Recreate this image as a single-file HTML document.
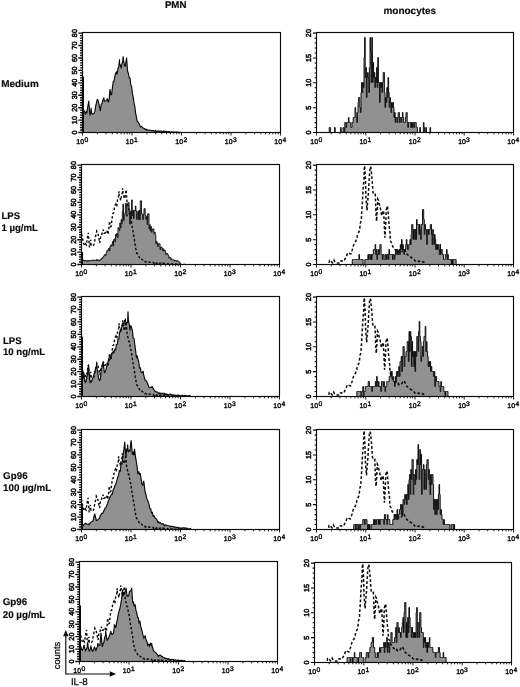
<!DOCTYPE html>
<html lang="en">
<head>
<meta charset="utf-8">
<title>IL-8 production by PMN and monocytes</title>
<style>
html,body{margin:0;padding:0;background:#fff;}
body{width:520px;height:687px;overflow:hidden;font-family:"Liberation Sans",Arial,Helvetica,sans-serif;}
svg{display:block;will-change:transform;transform:translateZ(0);}
</style>
</head>
<body>
<svg width="520" height="687" viewBox="0 0 520 687">
<rect width="520" height="687" fill="#fff"/>
<defs>
<clipPath id="cl0"><rect x="82.5" y="32.5" width="198.0" height="100.6"/></clipPath>
<clipPath id="cr0"><rect x="316.5" y="32.5" width="197.0" height="100.6"/></clipPath>
<clipPath id="cl1"><rect x="81.5" y="164.5" width="198.0" height="100.6"/></clipPath>
<clipPath id="cr1"><rect x="316.5" y="164.5" width="197.0" height="100.6"/></clipPath>
<clipPath id="cl2"><rect x="81.5" y="296.5" width="198.0" height="100.6"/></clipPath>
<clipPath id="cr2"><rect x="316.5" y="296.5" width="197.0" height="100.6"/></clipPath>
<clipPath id="cl3"><rect x="81.5" y="429.5" width="198.0" height="100.6"/></clipPath>
<clipPath id="cr3"><rect x="316.5" y="429.5" width="197.0" height="100.6"/></clipPath>
<clipPath id="cl4"><rect x="79.5" y="561.5" width="198.0" height="100.6"/></clipPath>
<clipPath id="cr4"><rect x="314.5" y="562.5" width="197.0" height="100.6"/></clipPath>
</defs>
<g fill="#919191" stroke="#0a0a0a" stroke-width="1" stroke-linejoin="miter" stroke-miterlimit="3">
<path clip-path="url(#cl0)" stroke-width="1.15" d="M82.0 102.0L82.8 104.7L83.6 109.4L84.4 111.9L85.2 113.8L86.0 111.8L86.8 112.9L87.6 107.6L88.4 103.0L88.8 100.8L89.2 107.2L90.0 115.4L90.8 112.2L91.1 107.7L91.6 112.8L92.4 114.1L93.2 114.0L94.0 113.4L94.8 111.7L95.6 106.3L96.4 103.0L97.2 99.7L97.2 99.2L98.0 100.3L98.8 103.4L99.6 107.5L100.4 111.0L101.2 104.2L102.0 103.7L102.8 100.4L103.6 98.6L103.8 97.7L104.4 101.2L105.2 101.2L106.0 100.6L106.8 99.8L107.4 98.5L107.6 99.8L108.4 102.3L109.2 98.6L110.0 89.2L110.0 89.2L110.8 94.8L111.6 94.5L112.4 87.9L113.2 81.8L114.0 81.1L114.8 76.7L115.6 73.3L116.4 72.0L117.2 74.4L118.0 68.0L118.8 66.9L119.5 59.2L119.6 64.0L120.4 64.9L121.2 68.5L122.0 63.5L122.8 60.8L123.1 56.2L123.6 60.9L124.4 65.0L125.2 66.7L126.0 61.7L126.6 57.7L126.8 61.0L127.6 71.2L128.4 73.5L129.2 77.5L130.0 77.9L130.8 84.9L131.6 86.4L132.4 93.4L133.2 97.1L134.0 102.7L134.8 106.5L135.6 112.9L136.4 117.1L137.2 121.1L138.0 121.9L138.8 123.2L139.6 124.7L140.4 126.8L141.2 126.5L142.0 127.0L142.8 127.7L143.6 128.2L144.4 128.5L145.2 129.6L146.0 129.3L146.8 130.3L147.6 129.8L148.4 130.2L149.2 130.0L150.0 130.2L150.8 130.2L151.6 130.9L152.4 130.6L153.2 130.6L154.0 130.5L154.8 131.7L155.6 130.7L156.4 131.5L157.2 130.9L158.0 131.6L158.8 130.9L159.6 131.5L160.4 131.1L161.2 131.1L162.0 131.3L162.8 132.2L163.6 131.1L164.4 131.4L165.2 131.3L166.0 131.3L166.8 131.3L167.6 132.2L168.4 131.5L169.2 131.6L170.0 132.0L170.8 132.1L171.6 131.9L172.4 132.3L173.2 131.9L174.0 132.4L174.8 131.9L175.6 132.5L176.4 131.9L177.2 132.0L178.0 132.0L178.8 132.4L179.6 132.3L180.4 132.5L181.2 132.4L182.0 132.5L182.8 132.5L183.6 132.5L184.4 132.5L185.2 132.5L186.0 132.5L186.8 132.5L187.6 132.5L187.6 132.5L82.0 132.5Z"/>
<rect x="82.9" y="76.5" width="1.1" height="56.0" fill="#0a0a0a" stroke="none"/>
<path clip-path="url(#cr0)" stroke-width="0.95" d="M329.2 132.5V127.5H329.8V127.5H330.4V132.5H331.0V132.5H331.6V132.5H332.2V132.5H332.8V132.5H333.4V132.5H334.0V132.5H334.6V127.5H335.2V132.5H335.8V132.5H336.4V132.5H337.0V132.5H337.6V132.5H338.2V132.5H338.8V132.5H339.4V132.5H340.0V132.5H340.6V127.5H341.2V132.5H341.8V132.5H342.4V132.5H343.0V127.5H343.6V127.5H344.2V132.5H344.8V122.5H345.4V122.5H346.0V127.5H346.6V122.5H347.2V122.5H347.8V122.5H348.4V117.5H349.0V122.5H349.6V122.5H350.2V122.5H350.8V127.5H351.4V127.5H352.0V122.5H352.6V122.5H353.2V117.5H353.8V117.5H354.4V117.5H355.0V107.5H355.6V112.5H356.2V117.5H356.8V122.5H357.4V112.5H358.0V102.5H358.6V97.5H359.2V97.5H359.8V107.5H360.4V112.5H361.0V92.5H361.6V82.5H362.2V92.5H362.8V82.5H363.4V87.5H364.0V57.5H364.6V37.5H365.2V77.5H365.8V67.5H366.4V97.5H367.0V77.5H367.6V72.5H368.2V77.5H368.8V92.5H369.4V67.5H370.0V37.5H370.6V52.5H371.2V82.5H371.8V37.5H372.4V82.5H373.0V62.5H373.6V77.5H374.2V72.5H374.8V87.5H375.4V77.5H376.0V82.5H376.6V67.5H377.2V87.5H377.8V57.5H378.4V82.5H379.0V82.5H379.6V102.5H380.2V82.5H380.8V87.5H381.4V82.5H382.0V92.5H382.6V82.5H383.2V72.5H383.8V72.5H384.4V92.5H385.0V107.5H385.6V97.5H386.2V102.5H386.8V87.5H387.4V97.5H388.0V77.5H388.6V92.5H389.2V107.5H389.8V97.5H390.4V102.5H391.0V112.5H391.6V102.5H392.2V107.5H392.8V102.5H393.4V107.5H394.0V117.5H394.6V112.5H395.2V122.5H395.8V117.5H396.4V117.5H397.0V122.5H397.6V117.5H398.2V112.5H398.8V112.5H399.4V122.5H400.0V117.5H400.6V117.5H401.2V122.5H401.8V117.5H402.4V112.5H403.0V117.5H403.6V122.5H404.2V122.5H404.8V122.5H405.4V117.5H406.0V112.5H406.6V112.5H407.2V122.5H407.8V127.5H408.4V122.5H409.0V122.5H409.6V122.5H410.2V122.5H410.8V127.5H411.4V122.5H412.0V127.5H412.6V122.5H413.2V122.5H413.8V127.5H414.4V122.5H415.0V122.5H415.6V122.5H416.2V127.5H416.8V127.5H417.4V132.5H418.0V132.5H418.6V132.5H419.2V132.5H419.8V127.5H420.4V132.5H421.0V132.5H421.6V132.5H422.2V132.5H422.8V132.5H423.4V122.5H424.0V127.5H424.6V132.5H425.2V132.5H425.8V127.5H426.4V132.5H427.0V132.5H427.6V132.5H428.2V132.5H428.8V132.5H429.4V132.5H430.0V127.5H430.6V132.5H431.2V132.5Z"/>
<path clip-path="url(#cl1)" stroke-width="0.9" d="M82.0 264.5V254.7H82.6V259.7H83.2V260.5H83.9V260.3H84.5V261.1H85.1V260.4H85.7V260.9H86.3V260.8H87.0V261.4H87.6V260.4H88.2V261.1H88.8V260.5H89.4V260.4H90.1V261.0H90.7V260.4H91.3V260.6H91.9V260.1H92.5V260.0H93.2V260.8H93.8V260.1H94.4V260.5H95.0V260.2H95.6V260.5H96.3V259.6H96.9V260.9H97.5V259.8H98.1V260.4H98.7V260.0H99.4V260.7H100.0V259.8H100.6V259.6H101.2V258.3H101.8V258.6H102.5V257.2H103.1V257.2H103.7V256.0H104.3V254.7H104.9V254.6H105.6V255.6H106.2V252.5H106.8V250.8H107.4V251.0H108.0V249.2H108.7V248.2H109.3V251.0H109.9V246.4H110.5V245.1H111.1V246.1H111.8V244.3H112.4V241.4H113.0V246.0H113.6V239.8H114.2V238.9H114.9V241.8H115.5V234.5H116.1V236.0H116.7V233.4H117.3V237.8H118.0V227.7H118.6V228.6H119.2V230.6H119.8V223.1H120.4V227.7H121.1V219.5H121.7V223.5H122.3V211.3H122.9V204.2H123.5V220.5H124.2V215.4H124.8V212.9H125.4V203.4H126.0V203.4H126.6V216.2H127.3V214.8H127.9V202.5H128.5V202.5H129.1V210.0H129.7V224.1H130.4V211.6H131.0V218.2H131.6V199.9H132.2V215.6H132.8V210.3H133.5V218.6H134.1V210.5H134.7V210.8H135.3V206.0H135.9V210.8H136.6V219.5H137.2V214.4H137.8V211.3H138.4V219.5H139.0V210.2H139.7V219.9H140.3V200.8H140.9V200.8H141.5V213.6H142.1V214.1H142.8V219.7H143.4V214.4H144.0V208.6H144.6V208.6H145.2V215.2H145.9V219.4H146.5V216.4H147.1V224.7H147.7V213.7H148.3V213.7H149.0V228.9H149.6V224.6H150.2V230.8H150.8V226.5H151.4V232.2H152.1V229.8H152.7V228.8H153.3V228.9H153.9V233.8H154.5V232.2H155.2V234.6H155.8V243.6H156.4V241.4H157.0V242.5H157.6V246.5H158.3V243.8H158.9V243.7H159.5V244.0H160.1V249.7H160.7V247.1H161.4V247.1H162.0V248.3H162.6V250.8H163.2V248.8H163.8V251.0H164.5V250.1H165.1V251.3H165.7V254.5H166.3V253.4H166.9V253.5H167.6V254.5H168.2V255.6H168.8V258.1H169.4V257.2H170.0V257.3H170.7V259.4H171.3V258.7H171.9V260.0H172.5V260.0H173.1V259.8H173.8V259.9H174.4V261.1H175.0V260.4H175.6V260.4H176.2V261.3H176.9V260.7H177.5V260.9H178.1V261.1H178.7V261.8H179.3V262.7H180.0V263.1H180.6V264.5Z"/>
<rect x="81.9" y="252.1" width="1.1" height="12.5" fill="#0a0a0a" stroke="none"/>
<path clip-path="url(#cr1)" stroke-width="0.95" d="M352.3 264.5V259.5H352.9V259.5H353.5V259.5H354.1V259.5H354.7V259.5H355.3V259.5H355.9V259.5H356.5V259.5H357.1V259.5H357.7V259.5H358.3V259.5H358.9V254.5H359.5V259.5H360.1V259.5H360.7V259.5H361.3V259.5H361.9V259.5H362.5V259.5H363.1V264.5H363.7V264.5H364.3V264.5H364.9V259.5H365.5V259.5H366.1V259.5H366.7V259.5H367.3V259.5H367.9V254.5H368.5V259.5H369.1V254.5H369.7V254.5H370.3V259.5H370.9V254.5H371.5V259.5H372.1V254.5H372.7V254.5H373.3V249.5H373.9V249.5H374.5V249.5H375.1V244.5H375.7V254.5H376.3V249.5H376.9V259.5H377.5V254.5H378.1V249.5H378.7V254.5H379.3V249.5H379.9V244.5H380.5V244.5H381.1V254.5H381.7V254.5H382.3V259.5H382.9V254.5H383.5V254.5H384.1V259.5H384.7V259.5H385.3V254.5H385.9V254.5H386.5V259.5H387.1V254.5H387.7V254.5H388.3V259.5H388.9V249.5H389.5V254.5H390.1V254.5H390.7V254.5H391.3V254.5H391.9V254.5H392.5V259.5H393.1V254.5H393.7V254.5H394.3V259.5H394.9V254.5H395.5V249.5H396.1V249.5H396.7V254.5H397.3V249.5H397.9V254.5H398.5V254.5H399.1V249.5H399.7V254.5H400.3V244.5H400.9V249.5H401.5V239.5H402.1V249.5H402.7V244.5H403.3V249.5H403.9V254.5H404.5V249.5H405.1V249.5H405.7V244.5H406.3V239.5H406.9V244.5H407.5V249.5H408.1V249.5H408.7V244.5H409.3V244.5H409.9V239.5H410.5V244.5H411.1V234.5H411.7V224.5H412.3V224.5H412.9V239.5H413.5V229.5H414.1V229.5H414.7V239.5H415.3V229.5H415.9V239.5H416.5V219.5H417.1V224.5H417.7V224.5H418.3V224.5H418.9V234.5H419.5V224.5H420.1V229.5H420.7V239.5H421.3V224.5H421.9V224.5H422.5V209.5H423.1V209.5H423.7V219.5H424.3V234.5H424.9V224.5H425.5V229.5H426.1V229.5H426.7V244.5H427.3V229.5H427.9V229.5H428.5V234.5H429.1V229.5H429.7V229.5H430.3V224.5H430.9V224.5H431.5V234.5H432.1V244.5H432.7V229.5H433.3V234.5H433.9V244.5H434.5V234.5H435.1V239.5H435.7V249.5H436.3V244.5H436.9V249.5H437.5V244.5H438.1V244.5H438.7V249.5H439.3V254.5H439.9V244.5H440.5V254.5H441.1V249.5H441.7V249.5H442.3V254.5H442.9V254.5H443.5V259.5H444.1V259.5H444.7V259.5H445.3V254.5H445.9V254.5H446.5V249.5H447.1V259.5H447.7V254.5H448.3V259.5H448.9V259.5H449.5V259.5H450.1V259.5H450.7V259.5H451.3V264.5H451.9V259.5H452.5V264.5H453.1V259.5H453.7V259.5H454.3V259.5H454.9V259.5H455.5V259.5H456.1V264.5H456.7V264.5Z"/>
<path clip-path="url(#cl2)" stroke-width="1.15" d="M82.0 383.4L82.8 379.0L83.6 374.3L83.8 372.3L84.4 378.3L85.2 382.3L86.0 381.6L86.8 378.0L87.6 373.4L88.4 365.2L88.5 364.6L89.2 373.3L90.0 383.1L90.8 380.9L91.6 381.8L92.4 378.9L93.2 377.2L94.0 374.2L94.8 371.9L95.6 368.8L96.4 366.8L96.6 363.1L97.2 369.7L98.0 373.9L98.8 379.3L99.6 380.5L100.4 379.0L101.2 369.7L102.0 367.2L102.8 363.3L103.1 361.5L103.6 366.6L104.4 372.9L105.2 371.6L106.0 369.5L106.8 366.0L107.6 364.0L108.4 359.8L109.2 357.5L110.0 355.5L110.8 358.6L111.6 354.0L112.4 353.1L113.2 351.6L114.0 352.7L114.8 349.3L115.6 349.8L116.4 344.5L117.2 344.3L118.0 339.1L118.8 339.2L119.6 332.3L120.4 331.2L121.2 327.9L122.0 326.4L122.8 322.4L123.6 326.1L124.4 320.9L125.2 321.5L125.4 318.5L126.0 325.2L126.8 322.8L127.6 322.4L128.0 311.5L128.4 320.1L129.2 324.1L130.0 330.5L130.8 325.4L131.6 327.7L132.4 330.3L133.2 337.9L134.0 338.5L134.8 344.6L135.6 350.5L136.4 357.3L137.2 356.1L138.0 359.3L138.8 362.3L139.6 368.2L140.4 368.0L141.2 372.5L142.0 372.6L142.8 371.8L143.1 370.8L143.6 374.7L144.4 377.5L145.2 380.5L146.0 380.5L146.8 381.6L147.6 383.7L148.4 385.8L149.2 387.7L150.0 387.6L150.8 387.2L151.6 387.2L152.3 386.2L152.4 387.9L153.2 388.2L154.0 390.0L154.8 391.0L155.6 391.7L156.4 391.9L157.2 392.1L158.0 392.4L158.8 393.7L159.6 393.0L160.4 393.4L161.2 393.2L162.0 393.9L162.8 393.2L163.6 393.3L164.4 393.4L165.2 394.7L166.0 393.8L166.8 395.0L167.6 394.4L168.4 395.4L169.2 394.4L170.0 394.2L170.8 394.4L171.6 394.7L172.4 394.8L173.2 395.5L174.0 395.0L174.8 395.7L175.6 395.2L176.4 395.7L177.2 395.1L178.0 396.1L178.8 395.1L179.6 396.1L180.4 395.5L181.2 396.4L182.0 395.2L182.8 395.5L183.6 395.7L184.4 395.5L185.2 395.5L186.0 396.2L186.8 395.6L187.6 396.5L188.4 395.9L189.2 395.9L190.0 395.6L190.0 396.5L82.0 396.5Z"/>
<rect x="81.9" y="336.7" width="1.1" height="59.8" fill="#0a0a0a" stroke="none"/>
<path clip-path="url(#cr2)" stroke-width="0.95" d="M355.0 396.5V396.5H355.6V396.5H356.2V396.5H356.8V391.5H357.4V391.5H358.0V391.5H358.6V391.5H359.2V391.5H359.8V391.5H360.4V391.5H361.0V396.5H361.6V391.5H362.2V391.5H362.8V386.5H363.4V396.5H364.0V391.5H364.6V391.5H365.2V386.5H365.8V386.5H366.4V386.5H367.0V386.5H367.6V386.5H368.2V381.5H368.8V381.5H369.4V386.5H370.0V386.5H370.6V386.5H371.2V386.5H371.8V391.5H372.4V386.5H373.0V386.5H373.6V386.5H374.2V386.5H374.8V386.5H375.4V381.5H376.0V386.5H376.6V376.5H377.2V381.5H377.8V386.5H378.4V381.5H379.0V386.5H379.6V386.5H380.2V386.5H380.8V391.5H381.4V381.5H382.0V381.5H382.6V381.5H383.2V386.5H383.8V381.5H384.4V386.5H385.0V391.5H385.6V386.5H386.2V386.5H386.8V381.5H387.4V381.5H388.0V381.5H388.6V381.5H389.2V376.5H389.8V376.5H390.4V371.5H391.0V376.5H391.6V371.5H392.2V376.5H392.8V376.5H393.4V381.5H394.0V381.5H394.6V386.5H395.2V376.5H395.8V381.5H396.4V371.5H397.0V371.5H397.6V376.5H398.2V371.5H398.8V366.5H399.4V376.5H400.0V361.5H400.6V361.5H401.2V356.5H401.8V371.5H402.4V356.5H403.0V346.5H403.6V346.5H404.2V366.5H404.8V356.5H405.4V356.5H406.0V351.5H406.6V351.5H407.2V341.5H407.8V341.5H408.4V361.5H409.0V331.5H409.6V351.5H410.2V331.5H410.8V336.5H411.4V366.5H412.0V341.5H412.6V356.5H413.2V351.5H413.8V366.5H414.4V351.5H415.0V371.5H415.6V351.5H416.2V356.5H416.8V336.5H417.4V336.5H418.0V351.5H418.6V331.5H419.2V321.5H419.8V336.5H420.4V341.5H421.0V361.5H421.6V356.5H422.2V346.5H422.8V356.5H423.4V341.5H424.0V336.5H424.6V336.5H425.2V326.5H425.8V351.5H426.4V341.5H427.0V351.5H427.6V356.5H428.2V366.5H428.8V361.5H429.4V366.5H430.0V361.5H430.6V371.5H431.2V366.5H431.8V371.5H432.4V371.5H433.0V371.5H433.6V376.5H434.2V371.5H434.8V386.5H435.4V376.5H436.0V376.5H436.6V381.5H437.2V381.5H437.8V381.5H438.4V381.5H439.0V386.5H439.6V386.5H440.2V391.5H440.8V381.5H441.4V386.5H442.0V386.5H442.6V386.5H443.2V386.5H443.8V391.5H444.4V391.5H445.0V396.5H445.6V391.5H446.2V391.5H446.8V391.5H447.4V391.5H448.0V396.5H448.6V396.5H449.2V396.5H449.8V396.5H450.4V396.5H451.0V396.5Z"/>
<path clip-path="url(#cl3)" stroke-width="1.15" d="M81.9 526.6L82.7 524.8L83.5 525.4L84.3 524.2L85.1 523.7L85.2 523.3L85.9 523.6L86.7 524.1L87.5 524.2L88.3 524.0L89.1 524.8L89.9 523.3L90.7 522.4L91.5 521.7L92.3 521.5L93.1 520.7L93.9 517.0L94.7 514.0L94.7 513.7L95.5 517.0L96.3 520.4L97.1 520.4L97.9 519.6L98.7 518.7L99.5 518.5L100.3 515.5L101.1 514.4L101.9 513.3L102.7 513.3L103.5 511.6L104.3 509.9L105.1 508.0L105.9 507.8L106.7 505.2L107.5 504.3L108.3 501.0L109.1 499.5L109.9 497.1L110.7 495.7L111.5 494.2L112.3 494.3L113.1 489.9L113.9 488.9L114.7 486.1L115.5 484.8L116.3 482.6L117.1 479.7L117.9 476.8L118.7 474.4L119.5 470.0L120.3 471.6L121.1 463.0L121.9 464.5L122.7 457.9L123.5 452.6L124.3 446.2L124.7 441.9L125.1 447.3L125.9 456.5L126.7 449.4L127.5 450.4L127.6 444.5L128.3 452.0L129.1 450.5L129.9 451.0L130.7 443.9L131.1 440.2L131.5 444.3L132.3 454.6L133.1 452.7L133.9 455.2L134.5 448.8L134.7 450.6L135.5 456.8L136.3 461.5L137.1 466.6L137.9 474.1L138.7 471.5L139.5 474.4L140.3 473.8L141.1 479.0L141.9 483.7L142.7 485.0L143.5 482.2L143.7 480.9L144.3 485.4L145.1 492.0L145.9 494.2L146.7 498.4L147.5 499.9L148.3 502.5L149.1 504.6L149.9 508.5L150.7 508.7L151.5 512.9L152.3 512.4L153.1 515.9L153.9 515.5L154.7 517.5L155.5 518.3L156.3 518.8L157.1 520.1L157.9 522.4L158.7 521.9L159.5 523.1L160.3 522.7L161.1 523.7L161.9 523.8L162.7 523.8L163.5 524.0L164.3 525.7L165.1 524.9L165.9 525.1L166.7 525.3L167.5 525.7L168.3 525.8L169.1 526.0L169.9 526.1L170.7 527.0L171.5 526.2L172.3 526.5L173.1 526.6L173.9 527.1L174.7 526.9L175.5 527.3L176.3 527.4L177.1 527.7L177.9 527.2L178.7 528.4L179.5 527.8L180.3 528.4L181.1 527.8L181.9 528.8L182.7 528.1L183.5 527.7L184.3 528.1L185.1 527.9L185.9 528.1L186.7 528.4L187.5 528.4L188.3 529.2L189.1 528.7L189.9 528.7L190.7 528.5L190.7 529.5L81.9 529.5Z"/>
<rect x="81.9" y="504.6" width="1.1" height="24.9" fill="#0a0a0a" stroke="none"/>
<path clip-path="url(#cr3)" stroke-width="0.95" d="M353.8 529.5V524.5H354.4V524.5H355.0V524.5H355.6V529.5H356.2V524.5H356.8V524.5H357.4V524.5H358.0V529.5H358.6V524.5H359.2V524.5H359.8V529.5H360.4V524.5H361.0V524.5H361.6V524.5H362.2V524.5H362.8V519.5H363.4V519.5H364.0V519.5H364.6V524.5H365.2V519.5H365.8V519.5H366.4V519.5H367.0V524.5H367.6V529.5H368.2V524.5H368.8V529.5H369.4V524.5H370.0V529.5H370.6V529.5H371.2V524.5H371.8V524.5H372.4V524.5H373.0V524.5H373.6V519.5H374.2V524.5H374.8V519.5H375.4V524.5H376.0V524.5H376.6V519.5H377.2V519.5H377.8V519.5H378.4V524.5H379.0V519.5H379.6V524.5H380.2V519.5H380.8V519.5H381.4V519.5H382.0V519.5H382.6V519.5H383.2V519.5H383.8V524.5H384.4V514.5H385.0V514.5H385.6V519.5H386.2V519.5H386.8V524.5H387.4V514.5H388.0V519.5H388.6V519.5H389.2V519.5H389.8V524.5H390.4V524.5H391.0V524.5H391.6V524.5H392.2V524.5H392.8V519.5H393.4V519.5H394.0V514.5H394.6V519.5H395.2V514.5H395.8V514.5H396.4V519.5H397.0V509.5H397.6V519.5H398.2V514.5H398.8V514.5H399.4V509.5H400.0V509.5H400.6V504.5H401.2V514.5H401.8V504.5H402.4V514.5H403.0V499.5H403.6V499.5H404.2V504.5H404.8V494.5H405.4V499.5H406.0V494.5H406.6V504.5H407.2V494.5H407.8V484.5H408.4V499.5H409.0V479.5H409.6V474.5H410.2V494.5H410.8V469.5H411.4V479.5H412.0V459.5H412.6V459.5H413.2V494.5H413.8V474.5H414.4V474.5H415.0V484.5H415.6V469.5H416.2V479.5H416.8V459.5H417.4V464.5H418.0V444.5H418.6V464.5H419.2V479.5H419.8V449.5H420.4V464.5H421.0V454.5H421.6V494.5H422.2V469.5H422.8V469.5H423.4V464.5H424.0V489.5H424.6V469.5H425.2V474.5H425.8V489.5H426.4V464.5H427.0V459.5H427.6V459.5H428.2V479.5H428.8V469.5H429.4V484.5H430.0V494.5H430.6V474.5H431.2V484.5H431.8V474.5H432.4V474.5H433.0V484.5H433.6V509.5H434.2V499.5H434.8V514.5H435.4V499.5H436.0V499.5H436.6V514.5H437.2V499.5H437.8V509.5H438.4V494.5H439.0V484.5H439.6V494.5H440.2V514.5H440.8V509.5H441.4V514.5H442.0V519.5H442.6V519.5H443.2V524.5H443.8V519.5H444.4V524.5H445.0V524.5H445.6V524.5H446.2V524.5H446.8V524.5H447.4V524.5H448.0V524.5H448.6V524.5H449.2V524.5H449.8V529.5H450.4V529.5H451.0V524.5H451.6V524.5H452.2V524.5H452.8V524.5H453.4V529.5H454.0V524.5H454.6V529.5H455.2V529.5H455.8V529.5Z"/>
<path clip-path="url(#cl4)" stroke-width="1.15" d="M79.9 645.8L80.7 646.2L81.5 649.5L82.3 650.2L83.1 648.5L83.9 646.0L84.1 644.9L84.7 648.2L85.5 650.7L86.3 649.4L87.1 647.6L87.5 643.2L87.9 645.4L88.7 649.6L89.5 651.6L90.3 648.7L91.0 645.7L91.1 646.9L91.9 649.9L92.7 651.2L93.5 649.7L94.3 647.5L94.4 646.6L95.1 648.5L95.9 650.5L96.7 648.3L97.5 646.2L97.9 643.2L98.3 644.7L99.1 645.7L99.9 645.5L100.7 636.0L101.0 632.8L101.5 638.3L102.3 646.9L103.1 643.9L103.9 642.3L104.7 637.4L105.5 635.5L105.7 631.0L106.3 636.1L107.1 640.7L107.9 638.9L108.7 637.9L109.5 635.3L110.3 633.6L110.9 631.0L111.1 632.4L111.9 634.5L112.7 634.0L113.5 632.7L114.3 626.6L114.3 625.0L115.1 625.6L115.9 627.9L116.7 622.1L117.5 619.1L118.3 613.7L119.1 611.1L119.9 608.3L120.7 604.4L121.5 599.9L122.3 592.6L122.7 589.5L123.1 596.1L123.9 592.6L124.7 592.5L125.5 591.1L126.1 587.8L126.3 590.3L127.1 596.1L127.9 595.8L128.7 595.8L129.5 591.5L130.3 591.1L131.1 590.3L131.7 587.8L131.9 591.7L132.7 602.5L133.5 602.3L134.3 606.3L135.1 604.4L135.9 610.2L136.7 612.5L137.5 617.2L138.3 617.4L139.1 623.3L139.9 620.9L140.7 626.4L141.5 629.0L142.3 632.1L143.1 635.7L143.9 638.0L144.7 636.5L145.2 635.4L145.5 637.3L146.3 640.3L147.1 642.3L147.9 645.4L148.7 644.3L149.5 646.1L150.3 643.6L151.1 645.2L151.6 643.2L151.9 645.1L152.7 647.9L153.5 651.0L154.3 651.2L155.1 652.1L155.9 652.8L156.7 653.9L157.5 654.5L158.3 656.5L159.1 655.3L159.9 655.6L160.7 655.3L161.5 656.5L162.3 656.3L163.1 657.7L163.9 657.5L164.7 658.2L165.5 658.3L166.3 658.3L167.1 658.8L167.9 659.3L168.7 658.8L169.5 659.5L170.3 659.3L171.1 659.7L171.9 659.3L172.7 659.5L173.5 659.6L174.3 660.6L175.1 659.9L175.9 660.1L176.7 660.2L177.5 660.0L178.3 660.1L179.1 661.1L179.9 660.5L180.7 660.8L181.5 660.3L182.3 661.1L183.1 660.6L183.9 660.5L184.7 660.7L184.7 661.5L79.9 661.5Z"/>
<rect x="79.9" y="605.5" width="1.1" height="56.0" fill="#0a0a0a" stroke="none"/>
<path clip-path="url(#cr4)" stroke-width="0.95" d="M346.5 662.5V662.5H347.1V657.5H347.7V657.5H348.3V657.5H348.9V657.5H349.5V657.5H350.1V662.5H350.7V657.5H351.3V657.5H351.9V657.5H352.5V662.5H353.1V657.5H353.7V657.5H354.3V652.5H354.9V657.5H355.5V657.5H356.1V657.5H356.7V657.5H357.3V662.5H357.9V662.5H358.5V657.5H359.1V657.5H359.7V652.5H360.3V652.5H360.9V652.5H361.5V657.5H362.1V657.5H362.7V657.5H363.3V662.5H363.9V662.5H364.5V662.5H365.1V657.5H365.7V657.5H366.3V652.5H366.9V652.5H367.5V652.5H368.1V657.5H368.7V652.5H369.3V652.5H369.9V647.5H370.5V647.5H371.1V642.5H371.7V642.5H372.3V637.5H372.9V637.5H373.5V647.5H374.1V647.5H374.7V652.5H375.3V657.5H375.9V657.5H376.5V657.5H377.1V652.5H377.7V657.5H378.3V652.5H378.9V652.5H379.5V647.5H380.1V652.5H380.7V647.5H381.3V647.5H381.9V647.5H382.5V647.5H383.1V647.5H383.7V642.5H384.3V652.5H384.9V642.5H385.5V647.5H386.1V642.5H386.7V637.5H387.3V652.5H387.9V642.5H388.5V647.5H389.1V652.5H389.7V642.5H390.3V642.5H390.9V632.5H391.5V632.5H392.1V642.5H392.7V642.5H393.3V642.5H393.9V642.5H394.5V637.5H395.1V637.5H395.7V627.5H396.3V642.5H396.9V622.5H397.5V622.5H398.1V632.5H398.7V627.5H399.3V632.5H399.9V632.5H400.5V637.5H401.1V632.5H401.7V627.5H402.3V622.5H402.9V617.5H403.5V632.5H404.1V612.5H404.7V602.5H405.3V602.5H405.9V637.5H406.5V622.5H407.1V637.5H407.7V617.5H408.3V632.5H408.9V607.5H409.5V617.5H410.1V627.5H410.7V627.5H411.3V637.5H411.9V627.5H412.5V632.5H413.1V637.5H413.7V632.5H414.3V637.5H414.9V632.5H415.5V637.5H416.1V612.5H416.7V607.5H417.3V637.5H417.9V622.5H418.5V622.5H419.1V637.5H419.7V612.5H420.3V612.5H420.9V627.5H421.5V632.5H422.1V632.5H422.7V632.5H423.3V647.5H423.9V637.5H424.5V642.5H425.1V637.5H425.7V647.5H426.3V642.5H426.9V652.5H427.5V642.5H428.1V647.5H428.7V642.5H429.3V637.5H429.9V647.5H430.5V647.5H431.1V647.5H431.7V647.5H432.3V647.5H432.9V652.5H433.5V652.5H434.1V652.5H434.7V652.5H435.3V657.5H435.9V652.5H436.5V652.5H437.1V652.5H437.7V652.5H438.3V647.5H438.9V647.5H439.5V652.5H440.1V657.5H440.7V657.5H441.3V657.5H441.9V657.5H442.5V657.5H443.1V652.5H443.7V657.5H444.3V657.5H444.9V657.5H445.5V657.5H446.1V662.5Z"/>
</g>
<g fill="none" stroke="#0a0a0a" stroke-width="1.4" stroke-dasharray="2.5 2">
<path clip-path="url(#cl1)" d="M81.5 234.0L82.3 236.7L83.1 241.4L83.9 243.9L84.7 245.8L85.5 243.8L86.3 244.9L87.1 239.6L87.9 235.0L88.3 232.8L88.7 239.2L89.5 247.4L90.3 244.2L90.6 239.7L91.1 244.8L91.9 246.1L92.7 246.0L93.5 245.4L94.3 243.7L95.1 238.3L95.9 235.0L96.7 231.7L96.7 231.2L97.5 232.3L98.3 235.4L99.1 239.5L99.9 243.0L100.7 236.2L101.5 235.7L102.3 232.4L103.1 230.6L103.3 229.7L103.9 233.2L104.7 233.2L105.5 232.6L106.3 231.8L106.9 230.5L107.1 231.8L107.9 234.3L108.7 230.6L109.5 221.2L109.5 221.2L110.3 226.8L111.1 226.5L111.9 219.9L112.7 213.8L113.5 213.1L114.3 208.7L115.1 205.3L115.9 204.0L116.7 206.4L117.5 200.0L118.3 198.9L119.0 191.2L119.1 196.0L119.9 196.9L120.7 200.5L121.5 195.5L122.3 192.8L122.6 188.2L123.1 192.9L123.9 197.0L124.7 198.7L125.5 193.7L126.1 189.7L126.3 193.0L127.1 203.2L127.9 205.5L128.7 209.5L129.5 209.9L130.3 216.9L131.1 218.4L131.9 225.4L132.7 229.1L133.5 234.7L134.3 238.5L135.1 244.9L135.9 249.1L136.7 253.1L137.5 253.9L138.3 255.2L139.1 256.7L139.9 258.8L140.7 258.5L141.5 259.0L142.3 259.7L143.1 260.2L143.9 260.5L144.7 261.6L145.5 261.3L146.3 262.3L147.1 261.8L147.9 262.2L148.7 262.0L149.5 262.2L150.3 262.2L151.1 262.9L151.9 262.6L152.7 262.6L153.5 262.5L154.3 263.7L155.1 262.7L155.9 263.5L156.7 262.9L157.5 263.6L158.3 262.9L159.1 263.5L159.9 263.1L160.7 263.1L161.5 263.3L162.3 264.2L163.1 263.1L163.9 263.4L164.7 263.3L165.5 263.3L166.3 263.3L167.1 264.2L167.9 263.5L168.7 263.6L169.5 264.0L170.3 264.1L171.1 263.9L171.9 264.3L172.7 263.9L173.5 264.4L174.3 263.9L175.1 264.5L175.9 263.9L176.7 264.0L177.5 264.0L178.3 264.4L179.1 264.3L179.9 264.5L180.7 264.4L181.5 264.5L182.3 264.5L183.1 264.5L183.9 264.5L184.7 264.5L185.5 264.5L186.3 264.5L187.1 264.5"/>
<path clip-path="url(#cr1)" stroke-width="1.5" stroke-dasharray="2.8 2.1" d="M329.1 262.9L329.6 260.3L330.6 260.1L331.1 260.6L331.9 262.2L332.6 262.9L333.2 262.9L334.1 260.3L334.8 261.9L335.5 262.9L336.0 262.9L336.9 262.9L337.2 262.9L338.0 262.9L338.6 262.9L339.6 262.9L340.2 262.9L340.8 260.9L341.4 260.7L342.3 260.9L343.1 260.6L343.9 261.1L344.5 260.0L345.3 258.5L345.8 257.7L346.6 256.3L347.0 254.3L348.0 252.6L348.4 252.6L349.1 253.2L350.2 253.8L350.9 253.9L351.3 251.9L352.2 250.3L352.7 248.6L353.3 246.1L354.0 244.1L355.1 242.0L355.8 241.4L356.4 238.4L357.0 237.6L357.5 234.6L358.2 233.2L359.3 231.1L359.9 227.3L360.3 223.4L361.3 220.2L361.7 213.4L362.4 201.7L363.1 188.8L364.0 178.6L364.5 163.3L365.5 180.9L365.9 196.7L367.0 210.4L367.5 203.6L368.4 193.1L369.0 182.7L369.5 174.1L370.1 166.6L370.9 167.4L371.7 175.2L372.4 183.6L372.9 191.6L373.6 194.7L374.5 195.0L375.3 194.5L376.1 216.4L376.6 221.3L377.4 208.0L377.8 199.1L378.7 200.8L379.6 205.7L380.3 207.6L381.0 212.2L381.7 215.6L382.4 214.0L383.0 210.6L383.6 210.7L384.3 224.7L384.9 237.7L385.7 224.4L386.3 209.7L387.2 206.0L387.7 207.6L388.3 214.5L389.2 226.6L390.0 232.7L390.4 240.8L391.3 242.4L392.2 243.5L392.5 246.2L393.2 247.2L394.2 249.1L394.6 249.4L395.3 249.8L396.3 251.0L396.7 251.6L397.4 251.7L398.5 252.4L398.8 251.7L399.5 252.8L400.2 253.0L401.3 252.8L402.0 251.7L402.7 250.6L403.3 249.0L403.9 249.2L404.5 249.2L405.1 250.3L406.0 252.0L406.6 253.0L407.2 254.5L408.3 255.2L408.9 255.9L409.3 256.6L410.1 257.1L411.1 257.3L411.7 257.8L412.4 258.2L413.0 259.3L413.6 259.5L414.3 259.8L415.2 261.0L415.8 261.1L416.4 261.5L417.4 262.0L418.0 261.6L418.4 261.2L419.2 261.4L420.0 261.3L420.8 261.4L421.6 261.0L422.3 261.3L422.8 262.0L423.7 262.0L424.4 262.6L424.9 263.0L425.7 263.5"/>
<path clip-path="url(#cl2)" d="M81.6 366.0L82.4 368.7L83.2 373.4L84.0 375.9L84.8 377.8L85.6 375.8L86.4 376.9L87.2 371.6L88.0 367.0L88.4 364.8L88.8 371.2L89.6 379.4L90.4 376.2L90.7 371.7L91.2 376.8L92.0 378.1L92.8 378.0L93.6 377.4L94.4 375.7L95.2 370.3L96.0 367.0L96.8 363.7L96.8 363.2L97.6 364.3L98.4 367.4L99.2 371.5L100.0 375.0L100.8 368.2L101.6 367.7L102.4 364.4L103.2 362.6L103.4 361.7L104.0 365.2L104.8 365.2L105.6 364.6L106.4 363.8L107.0 362.5L107.2 363.8L108.0 366.3L108.8 362.6L109.6 353.2L109.6 353.2L110.4 358.8L111.2 358.5L112.0 351.9L112.8 345.8L113.6 345.1L114.4 340.7L115.2 337.3L116.0 336.0L116.8 338.4L117.6 332.0L118.4 330.9L119.1 323.2L119.2 328.0L120.0 328.9L120.8 332.5L121.6 327.5L122.4 324.8L122.7 320.2L123.2 324.9L124.0 329.0L124.8 330.7L125.6 325.7L126.2 321.7L126.4 325.0L127.2 335.2L128.0 337.5L128.8 341.5L129.6 341.9L130.4 348.9L131.2 350.4L132.0 357.4L132.8 361.1L133.6 366.7L134.4 370.5L135.2 376.9L136.0 381.1L136.8 385.1L137.6 385.9L138.4 387.2L139.2 388.7L140.0 390.8L140.8 390.5L141.6 391.0L142.4 391.7L143.2 392.2L144.0 392.5L144.8 393.6L145.6 393.3L146.4 394.3L147.2 393.8L148.0 394.2L148.8 394.0L149.6 394.2L150.4 394.2L151.2 394.9L152.0 394.6L152.8 394.6L153.6 394.5L154.4 395.7L155.2 394.7L156.0 395.5L156.8 394.9L157.6 395.6L158.4 394.9L159.2 395.5L160.0 395.1L160.8 395.1L161.6 395.3L162.4 396.2L163.2 395.1L164.0 395.4L164.8 395.3L165.6 395.3L166.4 395.3L167.2 396.2L168.0 395.5L168.8 395.6L169.6 396.0L170.4 396.1L171.2 395.9L172.0 396.3L172.8 395.9L173.6 396.4L174.4 395.9L175.2 396.5L176.0 395.9L176.8 396.0L177.6 396.0L178.4 396.4L179.2 396.3L180.0 396.5L180.8 396.4L181.6 396.5L182.4 396.5L183.2 396.5L184.0 396.5L184.8 396.5L185.6 396.5L186.4 396.5L187.2 396.5"/>
<path clip-path="url(#cr2)" stroke-width="1.5" stroke-dasharray="2.8 2.1" d="M328.8 394.9L329.3 392.3L330.3 392.1L330.8 392.6L331.6 394.2L332.3 394.9L332.9 394.9L333.8 392.3L334.5 393.9L335.2 394.9L335.7 394.9L336.6 394.9L336.9 394.9L337.7 394.9L338.3 394.9L339.3 394.9L339.9 394.9L340.5 392.9L341.1 392.7L342.0 392.9L342.8 392.6L343.6 393.1L344.2 392.0L345.0 390.5L345.5 389.7L346.3 388.3L346.7 386.3L347.7 384.6L348.1 384.6L348.8 385.2L349.9 385.8L350.6 385.9L351.0 383.9L351.9 382.3L352.4 380.6L353.0 378.1L353.7 376.1L354.8 374.0L355.5 373.4L356.1 370.4L356.7 369.6L357.2 366.6L357.9 365.2L359.0 363.1L359.6 359.3L360.0 355.4L361.0 352.2L361.4 345.4L362.1 333.7L362.8 320.8L363.7 310.6L364.2 295.3L365.2 312.9L365.6 328.7L366.7 342.4L367.2 335.6L368.1 325.1L368.7 314.7L369.2 306.1L369.8 298.6L370.6 299.4L371.4 307.2L372.1 315.6L372.6 323.6L373.3 326.7L374.2 327.0L375.0 326.5L375.8 348.4L376.3 353.3L377.1 340.0L377.5 331.1L378.4 332.8L379.3 337.7L380.0 339.6L380.7 344.2L381.4 347.6L382.1 346.0L382.7 342.6L383.3 342.7L384.0 356.7L384.6 369.7L385.4 356.4L386.0 341.7L386.9 338.0L387.4 339.6L388.0 346.5L388.9 358.6L389.7 364.7L390.1 372.8L391.0 374.4L391.9 375.5L392.2 378.2L392.9 379.2L393.9 381.1L394.3 381.4L395.0 381.8L396.0 383.0L396.4 383.6L397.1 383.7L398.2 384.4L398.5 383.7L399.2 384.8L399.9 385.0L401.0 384.8L401.7 383.7L402.4 382.6L403.0 381.0L403.6 381.2L404.2 381.2L404.8 382.3L405.7 384.0L406.3 385.0L406.9 386.5L408.0 387.2L408.6 387.9L409.0 388.6L409.8 389.1L410.8 389.3L411.4 389.8L412.1 390.2L412.7 391.3L413.3 391.5L414.0 391.8L414.9 393.0L415.5 393.1L416.1 393.5L417.1 394.0L417.7 393.6L418.1 393.2L418.9 393.4L419.7 393.3L420.5 393.4L421.3 393.0L422.0 393.3L422.5 394.0L423.4 394.0L424.1 394.6L424.6 395.0L425.4 395.5"/>
<path clip-path="url(#cl3)" d="M81.2 499.0L82.0 501.7L82.8 506.4L83.6 508.9L84.4 510.8L85.2 508.8L86.0 509.9L86.8 504.6L87.6 500.0L88.0 497.8L88.4 504.2L89.2 512.4L90.0 509.2L90.3 504.7L90.8 509.8L91.6 511.1L92.4 511.0L93.2 510.4L94.0 508.7L94.8 503.3L95.6 500.0L96.4 496.7L96.4 496.2L97.2 497.3L98.0 500.4L98.8 504.5L99.6 508.0L100.4 501.2L101.2 500.7L102.0 497.4L102.8 495.6L103.0 494.7L103.6 498.2L104.4 498.2L105.2 497.6L106.0 496.8L106.6 495.5L106.8 496.8L107.6 499.3L108.4 495.6L109.2 486.2L109.2 486.2L110.0 491.8L110.8 491.5L111.6 484.9L112.4 478.8L113.2 478.1L114.0 473.7L114.8 470.3L115.6 469.0L116.4 471.4L117.2 465.0L118.0 463.9L118.7 456.2L118.8 461.0L119.6 461.9L120.4 465.5L121.2 460.5L122.0 457.8L122.3 453.2L122.8 457.9L123.6 462.0L124.4 463.7L125.2 458.7L125.8 454.7L126.0 458.0L126.8 468.2L127.6 470.5L128.4 474.5L129.2 474.9L130.0 481.9L130.8 483.4L131.6 490.4L132.4 494.1L133.2 499.7L134.0 503.5L134.8 509.9L135.6 514.1L136.4 518.1L137.2 518.9L138.0 520.2L138.8 521.7L139.6 523.8L140.4 523.5L141.2 524.0L142.0 524.7L142.8 525.2L143.6 525.5L144.4 526.6L145.2 526.3L146.0 527.3L146.8 526.8L147.6 527.2L148.4 527.0L149.2 527.2L150.0 527.2L150.8 527.9L151.6 527.6L152.4 527.6L153.2 527.5L154.0 528.7L154.8 527.7L155.6 528.5L156.4 527.9L157.2 528.6L158.0 527.9L158.8 528.5L159.6 528.1L160.4 528.1L161.2 528.3L162.0 529.2L162.8 528.1L163.6 528.4L164.4 528.3L165.2 528.3L166.0 528.3L166.8 529.2L167.6 528.5L168.4 528.6L169.2 529.0L170.0 529.1L170.8 528.9L171.6 529.3L172.4 528.9L173.2 529.4L174.0 528.9L174.8 529.5L175.6 528.9L176.4 529.0L177.2 529.0L178.0 529.4L178.8 529.3L179.6 529.5L180.4 529.4L181.2 529.5L182.0 529.5L182.8 529.5L183.6 529.5L184.4 529.5L185.2 529.5L186.0 529.5L186.8 529.5"/>
<path clip-path="url(#cr3)" stroke-width="1.5" stroke-dasharray="2.8 2.1" d="M328.6 527.9L329.1 525.3L330.1 525.1L330.6 525.6L331.4 527.2L332.1 527.9L332.7 527.9L333.6 525.3L334.3 526.9L335.0 527.9L335.5 527.9L336.4 527.9L336.7 527.9L337.5 527.9L338.1 527.9L339.1 527.9L339.7 527.9L340.3 525.9L340.9 525.7L341.8 525.9L342.6 525.6L343.4 526.1L344.0 525.0L344.8 523.5L345.3 522.7L346.1 521.3L346.5 519.3L347.5 517.6L347.9 517.6L348.6 518.2L349.7 518.8L350.4 518.9L350.8 516.9L351.7 515.3L352.2 513.6L352.8 511.1L353.5 509.1L354.6 507.0L355.3 506.4L355.9 503.4L356.5 502.6L357.0 499.6L357.7 498.2L358.8 496.1L359.4 492.3L359.8 488.4L360.8 485.2L361.2 478.4L361.9 466.7L362.6 453.8L363.5 443.6L364.0 428.3L365.0 445.9L365.4 461.7L366.5 475.4L367.0 468.6L367.9 458.1L368.5 447.7L369.0 439.1L369.6 431.6L370.4 432.4L371.2 440.2L371.9 448.6L372.4 456.6L373.1 459.7L374.0 460.0L374.8 459.5L375.6 481.4L376.1 486.3L376.9 473.0L377.3 464.1L378.2 465.8L379.1 470.7L379.8 472.6L380.5 477.2L381.2 480.6L381.9 479.0L382.5 475.6L383.1 475.7L383.8 489.7L384.4 502.7L385.2 489.4L385.8 474.7L386.7 471.0L387.2 472.6L387.8 479.5L388.7 491.6L389.5 497.7L389.9 505.8L390.8 507.4L391.7 508.5L392.0 511.2L392.7 512.2L393.7 514.1L394.1 514.4L394.8 514.8L395.8 516.0L396.2 516.6L396.9 516.7L398.0 517.4L398.3 516.7L399.0 517.8L399.7 518.0L400.8 517.8L401.5 516.7L402.2 515.6L402.8 514.0L403.4 514.2L404.0 514.2L404.6 515.3L405.5 517.0L406.1 518.0L406.7 519.5L407.8 520.2L408.4 520.9L408.8 521.6L409.6 522.1L410.6 522.3L411.2 522.8L411.9 523.2L412.5 524.3L413.1 524.5L413.8 524.8L414.7 526.0L415.3 526.1L415.9 526.5L416.9 527.0L417.5 526.6L417.9 526.2L418.7 526.4L419.5 526.3L420.3 526.4L421.1 526.0L421.8 526.3L422.3 527.0L423.2 527.0L423.9 527.6L424.4 528.0L425.2 528.5"/>
<path clip-path="url(#cl4)" d="M79.7 631.0L80.5 633.7L81.3 638.4L82.1 640.9L82.9 642.8L83.7 640.8L84.5 641.9L85.3 636.6L86.1 632.0L86.5 629.8L86.9 636.2L87.7 644.4L88.5 641.2L88.8 636.7L89.3 641.8L90.1 643.1L90.9 643.0L91.7 642.4L92.5 640.7L93.3 635.3L94.1 632.0L94.9 628.7L94.9 628.2L95.7 629.3L96.5 632.4L97.3 636.5L98.1 640.0L98.9 633.2L99.7 632.7L100.5 629.4L101.3 627.6L101.5 626.7L102.1 630.2L102.9 630.2L103.7 629.6L104.5 628.8L105.1 627.5L105.3 628.8L106.1 631.3L106.9 627.6L107.7 618.2L107.7 618.2L108.5 623.8L109.3 623.5L110.1 616.9L110.9 610.8L111.7 610.1L112.5 605.7L113.3 602.3L114.1 601.0L114.9 603.4L115.7 597.0L116.5 595.9L117.2 588.2L117.3 593.0L118.1 593.9L118.9 597.5L119.7 592.5L120.5 589.8L120.8 585.2L121.3 589.9L122.1 594.0L122.9 595.7L123.7 590.7L124.3 586.7L124.5 590.0L125.3 600.2L126.1 602.5L126.9 606.5L127.7 606.9L128.5 613.9L129.3 615.4L130.1 622.4L130.9 626.1L131.7 631.7L132.5 635.5L133.3 641.9L134.1 646.1L134.9 650.1L135.7 650.9L136.5 652.2L137.3 653.7L138.1 655.8L138.9 655.5L139.7 656.0L140.5 656.7L141.3 657.2L142.1 657.5L142.9 658.6L143.7 658.3L144.5 659.3L145.3 658.8L146.1 659.2L146.9 659.0L147.7 659.2L148.5 659.2L149.3 659.9L150.1 659.6L150.9 659.6L151.7 659.5L152.5 660.7L153.3 659.7L154.1 660.5L154.9 659.9L155.7 660.6L156.5 659.9L157.3 660.5L158.1 660.1L158.9 660.1L159.7 660.3L160.5 661.2L161.3 660.1L162.1 660.4L162.9 660.3L163.7 660.3L164.5 660.3L165.3 661.2L166.1 660.5L166.9 660.6L167.7 661.0L168.5 661.1L169.3 660.9L170.1 661.3L170.9 660.9L171.7 661.4L172.5 660.9L173.3 661.5L174.1 660.9L174.9 661.0L175.7 661.0L176.5 661.4L177.3 661.3L178.1 661.5L178.9 661.4L179.7 661.5L180.5 661.5L181.3 661.5L182.1 661.5L182.9 661.5L183.7 661.5L184.5 661.5L185.3 661.5"/>
<path clip-path="url(#cr4)" stroke-width="1.5" stroke-dasharray="2.8 2.1" d="M327.2 660.9L327.7 658.3L328.7 658.1L329.2 658.6L330.0 660.2L330.7 660.9L331.3 660.9L332.2 658.3L332.9 659.9L333.6 660.9L334.1 660.9L335.0 660.9L335.3 660.9L336.1 660.9L336.7 660.9L337.7 660.9L338.3 660.9L338.9 658.9L339.5 658.7L340.4 658.9L341.2 658.6L342.0 659.1L342.6 658.0L343.4 656.5L343.9 655.7L344.7 654.3L345.1 652.3L346.1 650.6L346.5 650.6L347.2 651.2L348.3 651.8L349.0 651.9L349.4 649.9L350.3 648.3L350.8 646.6L351.4 644.1L352.1 642.1L353.2 640.0L353.9 639.4L354.5 636.4L355.1 635.6L355.6 632.6L356.3 631.2L357.4 629.1L358.0 625.3L358.4 621.4L359.4 618.2L359.8 611.4L360.5 599.7L361.2 586.8L362.1 576.6L362.6 561.3L363.6 578.9L364.0 594.7L365.1 608.4L365.6 601.6L366.5 591.1L367.1 580.7L367.6 572.1L368.2 564.6L369.0 565.4L369.8 573.2L370.5 581.6L371.0 589.6L371.7 592.7L372.6 593.0L373.4 592.5L374.2 614.4L374.7 619.3L375.5 606.0L375.9 597.1L376.8 598.8L377.7 603.7L378.4 605.6L379.1 610.2L379.8 613.6L380.5 612.0L381.1 608.6L381.7 608.7L382.4 622.7L383.0 635.7L383.8 622.4L384.4 607.7L385.3 604.0L385.8 605.6L386.4 612.5L387.3 624.6L388.1 630.7L388.5 638.8L389.4 640.4L390.3 641.5L390.6 644.2L391.3 645.2L392.3 647.1L392.7 647.4L393.4 647.8L394.4 649.0L394.8 649.6L395.5 649.7L396.6 650.4L396.9 649.7L397.6 650.8L398.3 651.0L399.4 650.8L400.1 649.7L400.8 648.6L401.4 647.0L402.0 647.2L402.6 647.2L403.2 648.3L404.1 650.0L404.7 651.0L405.3 652.5L406.4 653.2L407.0 653.9L407.4 654.6L408.2 655.1L409.2 655.3L409.8 655.8L410.5 656.2L411.1 657.3L411.7 657.5L412.4 657.8L413.3 659.0L413.9 659.1L414.5 659.5L415.5 660.0L416.1 659.6L416.5 659.2L417.3 659.4L418.1 659.3L418.9 659.4L419.7 659.0L420.4 659.3L420.9 660.0L421.8 660.0L422.5 660.6L423.0 661.0L423.8 661.5"/>
</g>
<g stroke="#0a0a0a" fill="none">
<rect x="82.5" y="32.5" width="198.0" height="100.0" stroke-width="1.15"/>
<path d="M82.5 132.5h-4.2M82.5 130.0h-2.4M82.5 127.5h-2.4M82.5 125.0h-2.4M82.5 122.6h-2.4M82.5 120.1h-4.2M82.5 117.6h-2.4M82.5 115.1h-2.4M82.5 112.6h-2.4M82.5 110.1h-2.4M82.5 107.7h-4.2M82.5 105.2h-2.4M82.5 102.7h-2.4M82.5 100.2h-2.4M82.5 97.7h-2.4M82.5 95.2h-4.2M82.5 92.7h-2.4M82.5 90.3h-2.4M82.5 87.8h-2.4M82.5 85.3h-2.4M82.5 82.8h-4.2M82.5 80.3h-2.4M82.5 77.8h-2.4M82.5 75.3h-2.4M82.5 72.9h-2.4M82.5 70.4h-4.2M82.5 67.9h-2.4M82.5 65.4h-2.4M82.5 62.9h-2.4M82.5 60.4h-2.4M82.5 58.0h-4.2M82.5 55.5h-2.4M82.5 53.0h-2.4M82.5 50.5h-2.4M82.5 48.0h-2.4M82.5 45.5h-4.2M82.5 43.0h-2.4M82.5 40.6h-2.4M82.5 38.1h-2.4M82.5 35.6h-2.4M82.5 33.1h-4.2" stroke-width="1.35"/>
<path d="M82.5 132.5v3.0M97.4 132.5v1.8M106.1 132.5v1.8M112.3 132.5v1.8M117.1 132.5v1.8M121.0 132.5v1.8M124.3 132.5v1.8M127.2 132.5v1.8M129.7 132.5v1.8M132.0 132.5v3.0M146.9 132.5v1.8M155.6 132.5v1.8M161.8 132.5v1.8M166.6 132.5v1.8M170.5 132.5v1.8M173.8 132.5v1.8M176.7 132.5v1.8M179.2 132.5v1.8M181.5 132.5v3.0M196.4 132.5v1.8M205.1 132.5v1.8M211.3 132.5v1.8M216.1 132.5v1.8M220.0 132.5v1.8M223.3 132.5v1.8M226.2 132.5v1.8M228.7 132.5v1.8M231.0 132.5v3.0M245.9 132.5v1.8M254.6 132.5v1.8M260.8 132.5v1.8M265.6 132.5v1.8M269.5 132.5v1.8M272.8 132.5v1.8M275.7 132.5v1.8M278.2 132.5v1.8M280.5 132.5v3" stroke-width="0.9"/>
<rect x="316.5" y="32.5" width="197.0" height="100.0" stroke-width="1.15"/>
<path d="M316.5 132.5h-3.6M316.5 127.5h-1.9M316.5 122.6h-1.9M316.5 117.6h-1.9M316.5 112.6h-1.9M316.5 107.7h-3.6M316.5 102.7h-1.9M316.5 97.7h-1.9M316.5 92.7h-1.9M316.5 87.8h-1.9M316.5 82.8h-3.6M316.5 77.8h-1.9M316.5 72.9h-1.9M316.5 67.9h-1.9M316.5 62.9h-1.9M316.5 58.0h-3.6M316.5 53.0h-1.9M316.5 48.0h-1.9M316.5 43.0h-1.9M316.5 38.1h-1.9M316.5 33.1h-3.6" stroke-width="1.05"/>
<path d="M316.5 132.5v3.0M331.3 132.5v1.8M340.0 132.5v1.8M346.2 132.5v1.8M350.9 132.5v1.8M354.8 132.5v1.8M358.1 132.5v1.8M361.0 132.5v1.8M363.5 132.5v1.8M365.8 132.5v3.0M380.6 132.5v1.8M389.2 132.5v1.8M395.4 132.5v1.8M400.2 132.5v1.8M404.1 132.5v1.8M407.4 132.5v1.8M410.2 132.5v1.8M412.7 132.5v1.8M415.0 132.5v3.0M429.8 132.5v1.8M438.5 132.5v1.8M444.7 132.5v1.8M449.4 132.5v1.8M453.3 132.5v1.8M456.6 132.5v1.8M459.5 132.5v1.8M462.0 132.5v1.8M464.2 132.5v3.0M479.1 132.5v1.8M487.7 132.5v1.8M493.9 132.5v1.8M498.7 132.5v1.8M502.6 132.5v1.8M505.9 132.5v1.8M508.7 132.5v1.8M511.2 132.5v1.8M513.5 132.5v3" stroke-width="0.9"/>
<rect x="81.5" y="164.5" width="198.0" height="100.0" stroke-width="1.15"/>
<path d="M81.5 264.5h-4.2M81.5 262.0h-2.4M81.5 259.5h-2.4M81.5 257.0h-2.4M81.5 254.6h-2.4M81.5 252.1h-4.2M81.5 249.6h-2.4M81.5 247.1h-2.4M81.5 244.6h-2.4M81.5 242.1h-2.4M81.5 239.7h-4.2M81.5 237.2h-2.4M81.5 234.7h-2.4M81.5 232.2h-2.4M81.5 229.7h-2.4M81.5 227.2h-4.2M81.5 224.7h-2.4M81.5 222.3h-2.4M81.5 219.8h-2.4M81.5 217.3h-2.4M81.5 214.8h-4.2M81.5 212.3h-2.4M81.5 209.8h-2.4M81.5 207.3h-2.4M81.5 204.9h-2.4M81.5 202.4h-4.2M81.5 199.9h-2.4M81.5 197.4h-2.4M81.5 194.9h-2.4M81.5 192.4h-2.4M81.5 189.9h-4.2M81.5 187.5h-2.4M81.5 185.0h-2.4M81.5 182.5h-2.4M81.5 180.0h-2.4M81.5 177.5h-4.2M81.5 175.0h-2.4M81.5 172.6h-2.4M81.5 170.1h-2.4M81.5 167.6h-2.4M81.5 165.1h-4.2" stroke-width="1.35"/>
<path d="M81.5 264.5v3.0M96.4 264.5v1.8M105.1 264.5v1.8M111.3 264.5v1.8M116.1 264.5v1.8M120.0 264.5v1.8M123.3 264.5v1.8M126.2 264.5v1.8M128.7 264.5v1.8M131.0 264.5v3.0M145.9 264.5v1.8M154.6 264.5v1.8M160.8 264.5v1.8M165.6 264.5v1.8M169.5 264.5v1.8M172.8 264.5v1.8M175.7 264.5v1.8M178.2 264.5v1.8M180.5 264.5v3.0M195.4 264.5v1.8M204.1 264.5v1.8M210.3 264.5v1.8M215.1 264.5v1.8M219.0 264.5v1.8M222.3 264.5v1.8M225.2 264.5v1.8M227.7 264.5v1.8M230.0 264.5v3.0M244.9 264.5v1.8M253.6 264.5v1.8M259.8 264.5v1.8M264.6 264.5v1.8M268.5 264.5v1.8M271.8 264.5v1.8M274.7 264.5v1.8M277.2 264.5v1.8M279.5 264.5v3" stroke-width="0.9"/>
<rect x="316.5" y="164.5" width="197.0" height="100.0" stroke-width="1.15"/>
<path d="M316.5 264.5h-3.6M316.5 259.5h-1.9M316.5 254.6h-1.9M316.5 249.6h-1.9M316.5 244.6h-1.9M316.5 239.7h-3.6M316.5 234.7h-1.9M316.5 229.7h-1.9M316.5 224.7h-1.9M316.5 219.8h-1.9M316.5 214.8h-3.6M316.5 209.8h-1.9M316.5 204.9h-1.9M316.5 199.9h-1.9M316.5 194.9h-1.9M316.5 189.9h-3.6M316.5 185.0h-1.9M316.5 180.0h-1.9M316.5 175.0h-1.9M316.5 170.1h-1.9M316.5 165.1h-3.6" stroke-width="1.05"/>
<path d="M316.5 264.5v3.0M331.3 264.5v1.8M340.0 264.5v1.8M346.2 264.5v1.8M350.9 264.5v1.8M354.8 264.5v1.8M358.1 264.5v1.8M361.0 264.5v1.8M363.5 264.5v1.8M365.8 264.5v3.0M380.6 264.5v1.8M389.2 264.5v1.8M395.4 264.5v1.8M400.2 264.5v1.8M404.1 264.5v1.8M407.4 264.5v1.8M410.2 264.5v1.8M412.7 264.5v1.8M415.0 264.5v3.0M429.8 264.5v1.8M438.5 264.5v1.8M444.7 264.5v1.8M449.4 264.5v1.8M453.3 264.5v1.8M456.6 264.5v1.8M459.5 264.5v1.8M462.0 264.5v1.8M464.2 264.5v3.0M479.1 264.5v1.8M487.7 264.5v1.8M493.9 264.5v1.8M498.7 264.5v1.8M502.6 264.5v1.8M505.9 264.5v1.8M508.7 264.5v1.8M511.2 264.5v1.8M513.5 264.5v3" stroke-width="0.9"/>
<rect x="81.5" y="296.5" width="198.0" height="100.0" stroke-width="1.15"/>
<path d="M81.5 396.5h-4.2M81.5 394.0h-2.4M81.5 391.5h-2.4M81.5 389.0h-2.4M81.5 386.6h-2.4M81.5 384.1h-4.2M81.5 381.6h-2.4M81.5 379.1h-2.4M81.5 376.6h-2.4M81.5 374.1h-2.4M81.5 371.6h-4.2M81.5 369.2h-2.4M81.5 366.7h-2.4M81.5 364.2h-2.4M81.5 361.7h-2.4M81.5 359.2h-4.2M81.5 356.7h-2.4M81.5 354.3h-2.4M81.5 351.8h-2.4M81.5 349.3h-2.4M81.5 346.8h-4.2M81.5 344.3h-2.4M81.5 341.8h-2.4M81.5 339.3h-2.4M81.5 336.9h-2.4M81.5 334.4h-4.2M81.5 331.9h-2.4M81.5 329.4h-2.4M81.5 326.9h-2.4M81.5 324.4h-2.4M81.5 321.9h-4.2M81.5 319.5h-2.4M81.5 317.0h-2.4M81.5 314.5h-2.4M81.5 312.0h-2.4M81.5 309.5h-4.2M81.5 307.0h-2.4M81.5 304.6h-2.4M81.5 302.1h-2.4M81.5 299.6h-2.4M81.5 297.1h-4.2" stroke-width="1.35"/>
<path d="M81.5 396.5v3.0M96.4 396.5v1.8M105.1 396.5v1.8M111.3 396.5v1.8M116.1 396.5v1.8M120.0 396.5v1.8M123.3 396.5v1.8M126.2 396.5v1.8M128.7 396.5v1.8M131.0 396.5v3.0M145.9 396.5v1.8M154.6 396.5v1.8M160.8 396.5v1.8M165.6 396.5v1.8M169.5 396.5v1.8M172.8 396.5v1.8M175.7 396.5v1.8M178.2 396.5v1.8M180.5 396.5v3.0M195.4 396.5v1.8M204.1 396.5v1.8M210.3 396.5v1.8M215.1 396.5v1.8M219.0 396.5v1.8M222.3 396.5v1.8M225.2 396.5v1.8M227.7 396.5v1.8M230.0 396.5v3.0M244.9 396.5v1.8M253.6 396.5v1.8M259.8 396.5v1.8M264.6 396.5v1.8M268.5 396.5v1.8M271.8 396.5v1.8M274.7 396.5v1.8M277.2 396.5v1.8M279.5 396.5v3" stroke-width="0.9"/>
<rect x="316.5" y="296.5" width="197.0" height="100.0" stroke-width="1.15"/>
<path d="M316.5 396.5h-3.6M316.5 391.5h-1.9M316.5 386.6h-1.9M316.5 381.6h-1.9M316.5 376.6h-1.9M316.5 371.6h-3.6M316.5 366.7h-1.9M316.5 361.7h-1.9M316.5 356.7h-1.9M316.5 351.8h-1.9M316.5 346.8h-3.6M316.5 341.8h-1.9M316.5 336.9h-1.9M316.5 331.9h-1.9M316.5 326.9h-1.9M316.5 321.9h-3.6M316.5 317.0h-1.9M316.5 312.0h-1.9M316.5 307.0h-1.9M316.5 302.1h-1.9M316.5 297.1h-3.6" stroke-width="1.05"/>
<path d="M316.5 396.5v3.0M331.3 396.5v1.8M340.0 396.5v1.8M346.2 396.5v1.8M350.9 396.5v1.8M354.8 396.5v1.8M358.1 396.5v1.8M361.0 396.5v1.8M363.5 396.5v1.8M365.8 396.5v3.0M380.6 396.5v1.8M389.2 396.5v1.8M395.4 396.5v1.8M400.2 396.5v1.8M404.1 396.5v1.8M407.4 396.5v1.8M410.2 396.5v1.8M412.7 396.5v1.8M415.0 396.5v3.0M429.8 396.5v1.8M438.5 396.5v1.8M444.7 396.5v1.8M449.4 396.5v1.8M453.3 396.5v1.8M456.6 396.5v1.8M459.5 396.5v1.8M462.0 396.5v1.8M464.2 396.5v3.0M479.1 396.5v1.8M487.7 396.5v1.8M493.9 396.5v1.8M498.7 396.5v1.8M502.6 396.5v1.8M505.9 396.5v1.8M508.7 396.5v1.8M511.2 396.5v1.8M513.5 396.5v3" stroke-width="0.9"/>
<rect x="81.5" y="429.5" width="198.0" height="100.0" stroke-width="1.15"/>
<path d="M81.5 529.5h-4.2M81.5 527.0h-2.4M81.5 524.5h-2.4M81.5 522.0h-2.4M81.5 519.6h-2.4M81.5 517.1h-4.2M81.5 514.6h-2.4M81.5 512.1h-2.4M81.5 509.6h-2.4M81.5 507.1h-2.4M81.5 504.6h-4.2M81.5 502.2h-2.4M81.5 499.7h-2.4M81.5 497.2h-2.4M81.5 494.7h-2.4M81.5 492.2h-4.2M81.5 489.7h-2.4M81.5 487.3h-2.4M81.5 484.8h-2.4M81.5 482.3h-2.4M81.5 479.8h-4.2M81.5 477.3h-2.4M81.5 474.8h-2.4M81.5 472.3h-2.4M81.5 469.9h-2.4M81.5 467.4h-4.2M81.5 464.9h-2.4M81.5 462.4h-2.4M81.5 459.9h-2.4M81.5 457.4h-2.4M81.5 454.9h-4.2M81.5 452.5h-2.4M81.5 450.0h-2.4M81.5 447.5h-2.4M81.5 445.0h-2.4M81.5 442.5h-4.2M81.5 440.0h-2.4M81.5 437.6h-2.4M81.5 435.1h-2.4M81.5 432.6h-2.4M81.5 430.1h-4.2" stroke-width="1.35"/>
<path d="M81.5 529.5v3.0M96.4 529.5v1.8M105.1 529.5v1.8M111.3 529.5v1.8M116.1 529.5v1.8M120.0 529.5v1.8M123.3 529.5v1.8M126.2 529.5v1.8M128.7 529.5v1.8M131.0 529.5v3.0M145.9 529.5v1.8M154.6 529.5v1.8M160.8 529.5v1.8M165.6 529.5v1.8M169.5 529.5v1.8M172.8 529.5v1.8M175.7 529.5v1.8M178.2 529.5v1.8M180.5 529.5v3.0M195.4 529.5v1.8M204.1 529.5v1.8M210.3 529.5v1.8M215.1 529.5v1.8M219.0 529.5v1.8M222.3 529.5v1.8M225.2 529.5v1.8M227.7 529.5v1.8M230.0 529.5v3.0M244.9 529.5v1.8M253.6 529.5v1.8M259.8 529.5v1.8M264.6 529.5v1.8M268.5 529.5v1.8M271.8 529.5v1.8M274.7 529.5v1.8M277.2 529.5v1.8M279.5 529.5v3" stroke-width="0.9"/>
<rect x="316.5" y="429.5" width="197.0" height="100.0" stroke-width="1.15"/>
<path d="M316.5 529.5h-3.6M316.5 524.5h-1.9M316.5 519.6h-1.9M316.5 514.6h-1.9M316.5 509.6h-1.9M316.5 504.6h-3.6M316.5 499.7h-1.9M316.5 494.7h-1.9M316.5 489.7h-1.9M316.5 484.8h-1.9M316.5 479.8h-3.6M316.5 474.8h-1.9M316.5 469.9h-1.9M316.5 464.9h-1.9M316.5 459.9h-1.9M316.5 454.9h-3.6M316.5 450.0h-1.9M316.5 445.0h-1.9M316.5 440.0h-1.9M316.5 435.1h-1.9M316.5 430.1h-3.6" stroke-width="1.05"/>
<path d="M316.5 529.5v3.0M331.3 529.5v1.8M340.0 529.5v1.8M346.2 529.5v1.8M350.9 529.5v1.8M354.8 529.5v1.8M358.1 529.5v1.8M361.0 529.5v1.8M363.5 529.5v1.8M365.8 529.5v3.0M380.6 529.5v1.8M389.2 529.5v1.8M395.4 529.5v1.8M400.2 529.5v1.8M404.1 529.5v1.8M407.4 529.5v1.8M410.2 529.5v1.8M412.7 529.5v1.8M415.0 529.5v3.0M429.8 529.5v1.8M438.5 529.5v1.8M444.7 529.5v1.8M449.4 529.5v1.8M453.3 529.5v1.8M456.6 529.5v1.8M459.5 529.5v1.8M462.0 529.5v1.8M464.2 529.5v3.0M479.1 529.5v1.8M487.7 529.5v1.8M493.9 529.5v1.8M498.7 529.5v1.8M502.6 529.5v1.8M505.9 529.5v1.8M508.7 529.5v1.8M511.2 529.5v1.8M513.5 529.5v3" stroke-width="0.9"/>
<rect x="79.5" y="561.5" width="198.0" height="100.0" stroke-width="1.15"/>
<path d="M79.5 661.5h-4.2M79.5 659.0h-2.4M79.5 656.5h-2.4M79.5 654.0h-2.4M79.5 651.6h-2.4M79.5 649.1h-4.2M79.5 646.6h-2.4M79.5 644.1h-2.4M79.5 641.6h-2.4M79.5 639.1h-2.4M79.5 636.6h-4.2M79.5 634.2h-2.4M79.5 631.7h-2.4M79.5 629.2h-2.4M79.5 626.7h-2.4M79.5 624.2h-4.2M79.5 621.7h-2.4M79.5 619.3h-2.4M79.5 616.8h-2.4M79.5 614.3h-2.4M79.5 611.8h-4.2M79.5 609.3h-2.4M79.5 606.8h-2.4M79.5 604.3h-2.4M79.5 601.9h-2.4M79.5 599.4h-4.2M79.5 596.9h-2.4M79.5 594.4h-2.4M79.5 591.9h-2.4M79.5 589.4h-2.4M79.5 587.0h-4.2M79.5 584.5h-2.4M79.5 582.0h-2.4M79.5 579.5h-2.4M79.5 577.0h-2.4M79.5 574.5h-4.2M79.5 572.0h-2.4M79.5 569.6h-2.4M79.5 567.1h-2.4M79.5 564.6h-2.4M79.5 562.1h-4.2" stroke-width="1.35"/>
<path d="M79.5 661.5v3.0M94.4 661.5v1.8M103.1 661.5v1.8M109.3 661.5v1.8M114.1 661.5v1.8M118.0 661.5v1.8M121.3 661.5v1.8M124.2 661.5v1.8M126.7 661.5v1.8M129.0 661.5v3.0M143.9 661.5v1.8M152.6 661.5v1.8M158.8 661.5v1.8M163.6 661.5v1.8M167.5 661.5v1.8M170.8 661.5v1.8M173.7 661.5v1.8M176.2 661.5v1.8M178.5 661.5v3.0M193.4 661.5v1.8M202.1 661.5v1.8M208.3 661.5v1.8M213.1 661.5v1.8M217.0 661.5v1.8M220.3 661.5v1.8M223.2 661.5v1.8M225.7 661.5v1.8M228.0 661.5v3.0M242.9 661.5v1.8M251.6 661.5v1.8M257.8 661.5v1.8M262.6 661.5v1.8M266.5 661.5v1.8M269.8 661.5v1.8M272.7 661.5v1.8M275.2 661.5v1.8M277.5 661.5v3" stroke-width="0.9"/>
<rect x="314.5" y="562.5" width="197.0" height="100.0" stroke-width="1.15"/>
<path d="M314.5 662.5h-3.6M314.5 657.5h-1.9M314.5 652.6h-1.9M314.5 647.6h-1.9M314.5 642.6h-1.9M314.5 637.6h-3.6M314.5 632.7h-1.9M314.5 627.7h-1.9M314.5 622.7h-1.9M314.5 617.8h-1.9M314.5 612.8h-3.6M314.5 607.8h-1.9M314.5 602.9h-1.9M314.5 597.9h-1.9M314.5 592.9h-1.9M314.5 588.0h-3.6M314.5 583.0h-1.9M314.5 578.0h-1.9M314.5 573.0h-1.9M314.5 568.1h-1.9M314.5 563.1h-3.6" stroke-width="1.05"/>
<path d="M314.5 662.5v3.0M329.3 662.5v1.8M338.0 662.5v1.8M344.2 662.5v1.8M348.9 662.5v1.8M352.8 662.5v1.8M356.1 662.5v1.8M359.0 662.5v1.8M361.5 662.5v1.8M363.8 662.5v3.0M378.6 662.5v1.8M387.2 662.5v1.8M393.4 662.5v1.8M398.2 662.5v1.8M402.1 662.5v1.8M405.4 662.5v1.8M408.2 662.5v1.8M410.7 662.5v1.8M413.0 662.5v3.0M427.8 662.5v1.8M436.5 662.5v1.8M442.7 662.5v1.8M447.4 662.5v1.8M451.3 662.5v1.8M454.6 662.5v1.8M457.5 662.5v1.8M460.0 662.5v1.8M462.2 662.5v3.0M477.1 662.5v1.8M485.7 662.5v1.8M491.9 662.5v1.8M496.7 662.5v1.8M500.6 662.5v1.8M503.9 662.5v1.8M506.7 662.5v1.8M509.2 662.5v1.8M511.5 662.5v3" stroke-width="0.9"/>
</g>
<g font-family="'Liberation Sans', Arial, Helvetica, sans-serif" fill="#0a0a0a" stroke="#0a0a0a" stroke-width="0.38" font-size="7.3" text-rendering="geometricPrecision">
<text transform="translate(76.9 132.5) rotate(-90)" text-anchor="middle" stroke-width="0.5">0</text>
<text transform="translate(76.9 120.1) rotate(-90)" text-anchor="middle" stroke-width="0.5">10</text>
<text transform="translate(76.9 107.7) rotate(-90)" text-anchor="middle" stroke-width="0.5">20</text>
<text transform="translate(76.9 95.2) rotate(-90)" text-anchor="middle" stroke-width="0.5">30</text>
<text transform="translate(76.9 82.8) rotate(-90)" text-anchor="middle" stroke-width="0.5">40</text>
<text transform="translate(76.9 70.4) rotate(-90)" text-anchor="middle" stroke-width="0.5">50</text>
<text transform="translate(76.9 58.0) rotate(-90)" text-anchor="middle" stroke-width="0.5">60</text>
<text transform="translate(76.9 45.5) rotate(-90)" text-anchor="middle" stroke-width="0.5">70</text>
<text transform="translate(76.9 33.1) rotate(-90)" text-anchor="middle" stroke-width="0.5">80</text>
<text x="84.0" y="144.3" text-anchor="end" font-size="6.9">10</text><text x="84.4" y="142.0" font-size="6.7">0</text>
<text x="133.5" y="144.3" text-anchor="end" font-size="6.9">10</text><text x="133.9" y="142.0" font-size="6.7">1</text>
<text x="183.0" y="144.3" text-anchor="end" font-size="6.9">10</text><text x="183.4" y="142.0" font-size="6.7">2</text>
<text x="232.5" y="144.3" text-anchor="end" font-size="6.9">10</text><text x="232.9" y="142.0" font-size="6.7">3</text>
<text x="282.0" y="144.3" text-anchor="end" font-size="6.9">10</text><text x="282.4" y="142.0" font-size="6.7">4</text>
<text transform="translate(310.9 132.5) rotate(-90)" text-anchor="middle" stroke-width="0.5">0</text>
<text transform="translate(310.9 107.7) rotate(-90)" text-anchor="middle" stroke-width="0.5">5</text>
<text transform="translate(310.9 82.8) rotate(-90)" text-anchor="middle" stroke-width="0.5">10</text>
<text transform="translate(310.9 58.0) rotate(-90)" text-anchor="middle" stroke-width="0.5">15</text>
<text transform="translate(310.9 33.1) rotate(-90)" text-anchor="middle" stroke-width="0.5">20</text>
<text x="318.0" y="144.3" text-anchor="end" font-size="6.9">10</text><text x="318.4" y="142.0" font-size="6.7">0</text>
<text x="367.2" y="144.3" text-anchor="end" font-size="6.9">10</text><text x="367.6" y="142.0" font-size="6.7">1</text>
<text x="416.5" y="144.3" text-anchor="end" font-size="6.9">10</text><text x="416.9" y="142.0" font-size="6.7">2</text>
<text x="465.8" y="144.3" text-anchor="end" font-size="6.9">10</text><text x="466.1" y="142.0" font-size="6.7">3</text>
<text x="515.0" y="144.3" text-anchor="end" font-size="6.9">10</text><text x="515.4" y="142.0" font-size="6.7">4</text>
<text transform="translate(75.9 264.5) rotate(-90)" text-anchor="middle" stroke-width="0.5">0</text>
<text transform="translate(75.9 252.1) rotate(-90)" text-anchor="middle" stroke-width="0.5">10</text>
<text transform="translate(75.9 239.7) rotate(-90)" text-anchor="middle" stroke-width="0.5">20</text>
<text transform="translate(75.9 227.2) rotate(-90)" text-anchor="middle" stroke-width="0.5">30</text>
<text transform="translate(75.9 214.8) rotate(-90)" text-anchor="middle" stroke-width="0.5">40</text>
<text transform="translate(75.9 202.4) rotate(-90)" text-anchor="middle" stroke-width="0.5">50</text>
<text transform="translate(75.9 189.9) rotate(-90)" text-anchor="middle" stroke-width="0.5">60</text>
<text transform="translate(75.9 177.5) rotate(-90)" text-anchor="middle" stroke-width="0.5">70</text>
<text transform="translate(75.9 165.1) rotate(-90)" text-anchor="middle" stroke-width="0.5">80</text>
<text x="83.0" y="276.3" text-anchor="end" font-size="6.9">10</text><text x="83.4" y="274.0" font-size="6.7">0</text>
<text x="132.5" y="276.3" text-anchor="end" font-size="6.9">10</text><text x="132.9" y="274.0" font-size="6.7">1</text>
<text x="182.0" y="276.3" text-anchor="end" font-size="6.9">10</text><text x="182.4" y="274.0" font-size="6.7">2</text>
<text x="231.5" y="276.3" text-anchor="end" font-size="6.9">10</text><text x="231.9" y="274.0" font-size="6.7">3</text>
<text x="281.0" y="276.3" text-anchor="end" font-size="6.9">10</text><text x="281.4" y="274.0" font-size="6.7">4</text>
<text transform="translate(310.9 264.5) rotate(-90)" text-anchor="middle" stroke-width="0.5">0</text>
<text transform="translate(310.9 239.7) rotate(-90)" text-anchor="middle" stroke-width="0.5">5</text>
<text transform="translate(310.9 214.8) rotate(-90)" text-anchor="middle" stroke-width="0.5">10</text>
<text transform="translate(310.9 189.9) rotate(-90)" text-anchor="middle" stroke-width="0.5">15</text>
<text transform="translate(310.9 165.1) rotate(-90)" text-anchor="middle" stroke-width="0.5">20</text>
<text x="318.0" y="276.3" text-anchor="end" font-size="6.9">10</text><text x="318.4" y="274.0" font-size="6.7">0</text>
<text x="367.2" y="276.3" text-anchor="end" font-size="6.9">10</text><text x="367.6" y="274.0" font-size="6.7">1</text>
<text x="416.5" y="276.3" text-anchor="end" font-size="6.9">10</text><text x="416.9" y="274.0" font-size="6.7">2</text>
<text x="465.8" y="276.3" text-anchor="end" font-size="6.9">10</text><text x="466.1" y="274.0" font-size="6.7">3</text>
<text x="515.0" y="276.3" text-anchor="end" font-size="6.9">10</text><text x="515.4" y="274.0" font-size="6.7">4</text>
<text transform="translate(75.9 396.5) rotate(-90)" text-anchor="middle" stroke-width="0.5">0</text>
<text transform="translate(75.9 384.1) rotate(-90)" text-anchor="middle" stroke-width="0.5">10</text>
<text transform="translate(75.9 371.6) rotate(-90)" text-anchor="middle" stroke-width="0.5">20</text>
<text transform="translate(75.9 359.2) rotate(-90)" text-anchor="middle" stroke-width="0.5">30</text>
<text transform="translate(75.9 346.8) rotate(-90)" text-anchor="middle" stroke-width="0.5">40</text>
<text transform="translate(75.9 334.4) rotate(-90)" text-anchor="middle" stroke-width="0.5">50</text>
<text transform="translate(75.9 321.9) rotate(-90)" text-anchor="middle" stroke-width="0.5">60</text>
<text transform="translate(75.9 309.5) rotate(-90)" text-anchor="middle" stroke-width="0.5">70</text>
<text transform="translate(75.9 297.1) rotate(-90)" text-anchor="middle" stroke-width="0.5">80</text>
<text x="83.0" y="408.3" text-anchor="end" font-size="6.9">10</text><text x="83.4" y="406.0" font-size="6.7">0</text>
<text x="132.5" y="408.3" text-anchor="end" font-size="6.9">10</text><text x="132.9" y="406.0" font-size="6.7">1</text>
<text x="182.0" y="408.3" text-anchor="end" font-size="6.9">10</text><text x="182.4" y="406.0" font-size="6.7">2</text>
<text x="231.5" y="408.3" text-anchor="end" font-size="6.9">10</text><text x="231.9" y="406.0" font-size="6.7">3</text>
<text x="281.0" y="408.3" text-anchor="end" font-size="6.9">10</text><text x="281.4" y="406.0" font-size="6.7">4</text>
<text transform="translate(310.9 396.5) rotate(-90)" text-anchor="middle" stroke-width="0.5">0</text>
<text transform="translate(310.9 371.6) rotate(-90)" text-anchor="middle" stroke-width="0.5">5</text>
<text transform="translate(310.9 346.8) rotate(-90)" text-anchor="middle" stroke-width="0.5">10</text>
<text transform="translate(310.9 321.9) rotate(-90)" text-anchor="middle" stroke-width="0.5">15</text>
<text transform="translate(310.9 297.1) rotate(-90)" text-anchor="middle" stroke-width="0.5">20</text>
<text x="318.0" y="408.3" text-anchor="end" font-size="6.9">10</text><text x="318.4" y="406.0" font-size="6.7">0</text>
<text x="367.2" y="408.3" text-anchor="end" font-size="6.9">10</text><text x="367.6" y="406.0" font-size="6.7">1</text>
<text x="416.5" y="408.3" text-anchor="end" font-size="6.9">10</text><text x="416.9" y="406.0" font-size="6.7">2</text>
<text x="465.8" y="408.3" text-anchor="end" font-size="6.9">10</text><text x="466.1" y="406.0" font-size="6.7">3</text>
<text x="515.0" y="408.3" text-anchor="end" font-size="6.9">10</text><text x="515.4" y="406.0" font-size="6.7">4</text>
<text transform="translate(75.9 529.5) rotate(-90)" text-anchor="middle" stroke-width="0.5">0</text>
<text transform="translate(75.9 517.1) rotate(-90)" text-anchor="middle" stroke-width="0.5">10</text>
<text transform="translate(75.9 504.6) rotate(-90)" text-anchor="middle" stroke-width="0.5">20</text>
<text transform="translate(75.9 492.2) rotate(-90)" text-anchor="middle" stroke-width="0.5">30</text>
<text transform="translate(75.9 479.8) rotate(-90)" text-anchor="middle" stroke-width="0.5">40</text>
<text transform="translate(75.9 467.4) rotate(-90)" text-anchor="middle" stroke-width="0.5">50</text>
<text transform="translate(75.9 454.9) rotate(-90)" text-anchor="middle" stroke-width="0.5">60</text>
<text transform="translate(75.9 442.5) rotate(-90)" text-anchor="middle" stroke-width="0.5">70</text>
<text transform="translate(75.9 430.1) rotate(-90)" text-anchor="middle" stroke-width="0.5">80</text>
<text x="83.0" y="541.3" text-anchor="end" font-size="6.9">10</text><text x="83.4" y="539.0" font-size="6.7">0</text>
<text x="132.5" y="541.3" text-anchor="end" font-size="6.9">10</text><text x="132.9" y="539.0" font-size="6.7">1</text>
<text x="182.0" y="541.3" text-anchor="end" font-size="6.9">10</text><text x="182.4" y="539.0" font-size="6.7">2</text>
<text x="231.5" y="541.3" text-anchor="end" font-size="6.9">10</text><text x="231.9" y="539.0" font-size="6.7">3</text>
<text x="281.0" y="541.3" text-anchor="end" font-size="6.9">10</text><text x="281.4" y="539.0" font-size="6.7">4</text>
<text transform="translate(310.9 529.5) rotate(-90)" text-anchor="middle" stroke-width="0.5">0</text>
<text transform="translate(310.9 504.6) rotate(-90)" text-anchor="middle" stroke-width="0.5">5</text>
<text transform="translate(310.9 479.8) rotate(-90)" text-anchor="middle" stroke-width="0.5">10</text>
<text transform="translate(310.9 454.9) rotate(-90)" text-anchor="middle" stroke-width="0.5">15</text>
<text transform="translate(310.9 430.1) rotate(-90)" text-anchor="middle" stroke-width="0.5">20</text>
<text x="318.0" y="541.3" text-anchor="end" font-size="6.9">10</text><text x="318.4" y="539.0" font-size="6.7">0</text>
<text x="367.2" y="541.3" text-anchor="end" font-size="6.9">10</text><text x="367.6" y="539.0" font-size="6.7">1</text>
<text x="416.5" y="541.3" text-anchor="end" font-size="6.9">10</text><text x="416.9" y="539.0" font-size="6.7">2</text>
<text x="465.8" y="541.3" text-anchor="end" font-size="6.9">10</text><text x="466.1" y="539.0" font-size="6.7">3</text>
<text x="515.0" y="541.3" text-anchor="end" font-size="6.9">10</text><text x="515.4" y="539.0" font-size="6.7">4</text>
<text transform="translate(73.9 661.5) rotate(-90)" text-anchor="middle" stroke-width="0.5">0</text>
<text transform="translate(73.9 649.1) rotate(-90)" text-anchor="middle" stroke-width="0.5">10</text>
<text transform="translate(73.9 636.6) rotate(-90)" text-anchor="middle" stroke-width="0.5">20</text>
<text transform="translate(73.9 624.2) rotate(-90)" text-anchor="middle" stroke-width="0.5">30</text>
<text transform="translate(73.9 611.8) rotate(-90)" text-anchor="middle" stroke-width="0.5">40</text>
<text transform="translate(73.9 599.4) rotate(-90)" text-anchor="middle" stroke-width="0.5">50</text>
<text transform="translate(73.9 587.0) rotate(-90)" text-anchor="middle" stroke-width="0.5">60</text>
<text transform="translate(73.9 574.5) rotate(-90)" text-anchor="middle" stroke-width="0.5">70</text>
<text transform="translate(73.9 562.1) rotate(-90)" text-anchor="middle" stroke-width="0.5">80</text>
<text x="81.0" y="673.3" text-anchor="end" font-size="6.9">10</text><text x="81.4" y="671.0" font-size="6.7">0</text>
<text x="130.5" y="673.3" text-anchor="end" font-size="6.9">10</text><text x="130.9" y="671.0" font-size="6.7">1</text>
<text x="180.0" y="673.3" text-anchor="end" font-size="6.9">10</text><text x="180.4" y="671.0" font-size="6.7">2</text>
<text x="229.5" y="673.3" text-anchor="end" font-size="6.9">10</text><text x="229.9" y="671.0" font-size="6.7">3</text>
<text x="279.0" y="673.3" text-anchor="end" font-size="6.9">10</text><text x="279.4" y="671.0" font-size="6.7">4</text>
<text transform="translate(308.9 662.5) rotate(-90)" text-anchor="middle" stroke-width="0.5">0</text>
<text transform="translate(308.9 637.6) rotate(-90)" text-anchor="middle" stroke-width="0.5">5</text>
<text transform="translate(308.9 612.8) rotate(-90)" text-anchor="middle" stroke-width="0.5">10</text>
<text transform="translate(308.9 588.0) rotate(-90)" text-anchor="middle" stroke-width="0.5">15</text>
<text transform="translate(308.9 563.1) rotate(-90)" text-anchor="middle" stroke-width="0.5">20</text>
<text x="316.0" y="674.3" text-anchor="end" font-size="6.9">10</text><text x="316.4" y="672.0" font-size="6.7">0</text>
<text x="365.2" y="674.3" text-anchor="end" font-size="6.9">10</text><text x="365.6" y="672.0" font-size="6.7">1</text>
<text x="414.5" y="674.3" text-anchor="end" font-size="6.9">10</text><text x="414.9" y="672.0" font-size="6.7">2</text>
<text x="463.8" y="674.3" text-anchor="end" font-size="6.9">10</text><text x="464.1" y="672.0" font-size="6.7">3</text>
<text x="513.0" y="674.3" text-anchor="end" font-size="6.9">10</text><text x="513.4" y="672.0" font-size="6.7">4</text>
</g>
<g font-family="'Liberation Sans', Arial, Helvetica, sans-serif" font-weight="bold" fill="#0a0a0a" font-size="9.6" text-rendering="geometricPrecision" stroke="#0a0a0a" stroke-width="0.15">
<text x="164.9" y="7.9" font-size="9.7">PMN</text>
<text x="383.4" y="13.5" font-size="10">monocytes</text>
<text x="1.2" y="86.5" font-size="9.95">Medium</text>
<text x="1.4" y="218.7">LPS</text><text x="1.4" y="230.7">1 µg/mL</text>
<text x="3" y="344">LPS</text><text x="3" y="355.4">10 ng/mL</text>
<text x="3.1" y="478.8" font-size="9.8">Gp96</text><text x="3.1" y="491.3" font-size="9.8">100 µg/mL</text>
<text x="2.7" y="605.3" font-size="9.8">Gp96</text><text x="2.7" y="617.5" font-size="9.8">20 µg/mL</text>
</g>
<g stroke="#0a0a0a" stroke-width="1" fill="#0a0a0a">
<path d="M65.8 633V674H112" fill="none" stroke-width="1.15"/>
<path d="M65.8 630l-2.7 6.2h5.4z" stroke="none"/>
<path d="M116 674l-6.2-2.7v5.4z" stroke="none"/>
</g>
<g font-family="'Liberation Sans', Arial, Helvetica, sans-serif" fill="#0a0a0a" stroke="#0a0a0a" stroke-width="0.25" font-size="9.3" text-rendering="geometricPrecision">
<text transform="translate(60.2 669.2) rotate(-90)">counts</text>
<text x="70.9" y="685.2" font-size="9.8">IL-8</text>
</g>
</svg>
</body>
</html>
